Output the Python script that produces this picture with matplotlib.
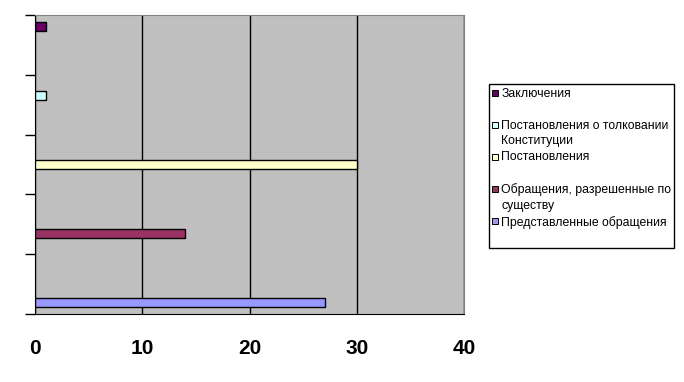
import numpy as np
import matplotlib.pyplot as plt
from matplotlib.lines import Line2D

# данные
series = ["Представленные обращения", "Обращения, разрешенные по\nсуществу",
          "Постановления", "Постановления о толковании\nКонституции", "Заключения"]
values = [27, 14, 30, 1, 1]
colors = ["#9999FF", "#993366", "#FFFFCC", "#CCFFFF", "#660066"]
xticks = [0, 10, 20, 30, 40]

fig = plt.figure(figsize=(6.84, 3.82), dpi=100)
ax = fig.add_axes([35/684, 1-314/382, (464-35)/684, (314-15)/382])
ax.set_facecolor("#C0C0C0")

pos = np.arange(len(values))
ax.barh(pos, values, height=0.13, color=colors, edgecolor="black", linewidth=1, zorder=3)

ax.set_xlim(0, 40)
ax.set_ylim(-0.167, 4.167)
ax.set_xticks(xticks)
ax.set_xticklabels([str(v) for v in xticks], fontsize=15, fontweight="bold",
                   family="Liberation Sans")
ax.tick_params(axis="x", length=0, pad=18)
ax.set_yticks(np.linspace(-0.167, 4.167, 6))
ax.set_yticklabels([])
ax.tick_params(axis="y", length=7, width=1, color="black")
ax.grid(axis="x", color="black", linewidth=1, zorder=1)
ax.spines["top"].set_color("#808080")
ax.spines["right"].set_color("#808080")
ax.spines["left"].set_color("black")
ax.spines["bottom"].set_color("black")

# легенда (сверху вниз - в обратном порядке)
handles = []
for lab, c in zip(series[::-1], colors[::-1]):
    if "\n" not in lab:
        lab = lab + "\n "
    handles.append(Line2D([], [], linestyle="none", marker="s", markersize=4.3,
                          markerfacecolor=c, markeredgecolor="black",
                          markeredgewidth=0.7, label=lab))
leg = fig.legend(handles=handles, loc="upper left",
                 bbox_to_anchor=(489/684, 1-84/382-0.01, (674-489)/684, 0.01), mode="expand",
                 prop={"family": "Liberation Sans", "size": 8.8},
                 handlelength=0.45, handleheight=1.3, handletextpad=0.25,
                 labelspacing=0.35, borderpad=0.3, borderaxespad=0,
                 fancybox=False, framealpha=1, edgecolor="black")
leg.get_frame().set_linewidth(1)
for t in leg.get_texts():
    t.set_linespacing(1.4)
# маркер на уровне первой строки
for col in leg._legend_handle_box.get_children():
    for row in col.get_children():
        row.align = "top"

fig.savefig("out.png", dpi=100)
